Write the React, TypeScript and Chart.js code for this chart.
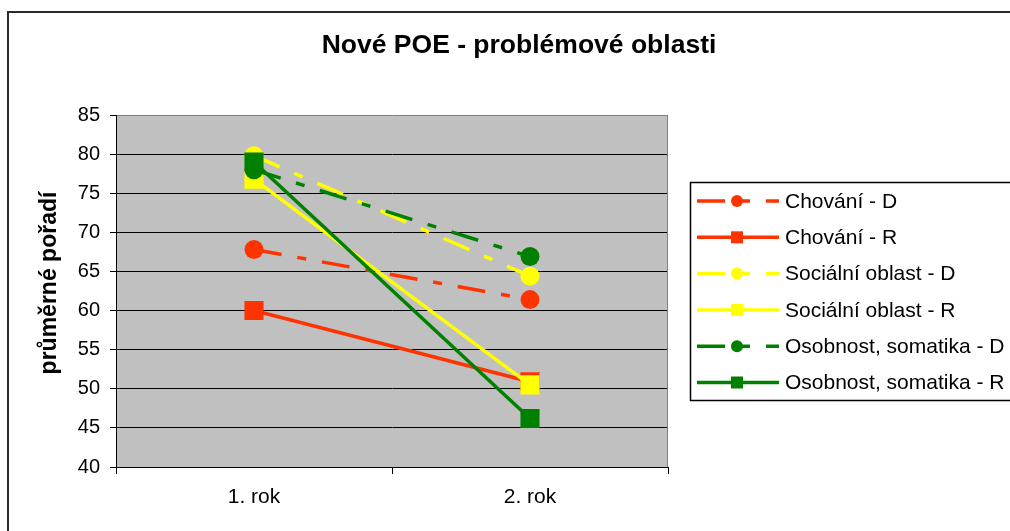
import React, { useEffect, useRef } from 'react';
import { Chart, registerables } from 'chart.js';

Chart.register(...registerables);

// ---- data ----
const categories = ['1. rok', '2. rok'];
const seriesNames = [
  'Chování - D',
  'Chování - R',
  'Sociální oblast - D',
  'Sociální oblast - R',
  'Osobnost, somatika - D',
  'Osobnost, somatika - R',
];
const chovaniD = [67.8, 61.4];
const chovaniR = [60.0, 50.9];
const socialniD = [79.8, 64.4];
const socialniR = [76.8, 50.5];
const osobnostD = [78.0, 66.9];
const osobnostR = [79.0, 46.2];
const yTickValues = [40, 45, 50, 55, 60, 65, 70, 75, 80, 85];

const titleText = 'Nové POE - problémové oblasti';
const yTitleText = 'průměrné pořadí';

const FONT = "'Liberation Sans', Arial, Helvetica, sans-serif";
const RED = '#FF3300';
const YELLOW = '#FFFF00';
const GREEN = '#008000';
const DASH = [28, 16, 9, 16];

const seriesValues = [chovaniD, chovaniR, socialniD, socialniR, osobnostD, osobnostR];
const seriesColors = [RED, RED, YELLOW, YELLOW, GREEN, GREEN];
const seriesDashed = [true, false, true, false, true, false];

const decorPlugin = {
  id: 'decor',
  beforeDraw(chart: any) {
    const { ctx, chartArea: a } = chart;
    ctx.save();
    ctx.fillStyle = '#ffffff';
    ctx.fillRect(0, 0, chart.width, chart.height);
    ctx.fillStyle = '#C0C0C0';
    ctx.fillRect(a.left, a.top, a.right - a.left, a.bottom - a.top);
    ctx.restore();
  },
  afterDraw(chart: any) {
    const { ctx, chartArea: a } = chart;
    ctx.save();
    // plot right border
    ctx.strokeStyle = '#808080';
    ctx.lineWidth = 1;
    ctx.beginPath();
    ctx.moveTo(a.right - 0.5, a.top);
    ctx.lineTo(a.right - 0.5, a.bottom);
    ctx.stroke();

    // outer chart border
    ctx.strokeStyle = '#2a2a2a';
    ctx.lineWidth = 2;
    ctx.beginPath();
    ctx.moveTo(8, chart.height + 2);
    ctx.lineTo(8, 12);
    ctx.lineTo(chart.width + 2, 12);
    ctx.stroke();

    // title
    ctx.fillStyle = '#000';
    ctx.font = `bold 26.5px ${FONT}`;
    ctx.textAlign = 'center';
    ctx.textBaseline = 'middle';
    ctx.fillText(titleText, 519, 46);

    // y axis title
    ctx.save();
    ctx.translate(50, 283);
    ctx.rotate(-Math.PI / 2);
    ctx.font = `bold 23px ${FONT}`;
    ctx.fillText(yTitleText, 0, 0);
    ctx.restore();

    // legend
    const boxL = 690.5, boxT = 182.5, boxB = 400.5;
    ctx.strokeStyle = '#000';
    ctx.lineWidth = 1.5;
    ctx.strokeRect(boxL, boxT, chart.width + 20 - boxL, boxB - boxT);
    const lx0 = 697, lx1 = 779, mx = 737, tx = 785;
    chart.data.datasets.forEach((ds: any, i: number) => {
      const y = 201 + i * 36.3;
      ctx.strokeStyle = ds.borderColor;
      ctx.lineWidth = 3.5;
      ctx.setLineDash(ds.borderDash || []);
      ctx.lineDashOffset = 0;
      ctx.beginPath();
      ctx.moveTo(lx0, y);
      ctx.lineTo(lx1, y);
      ctx.stroke();
      ctx.setLineDash([]);
      ctx.fillStyle = ds.borderColor;
      if (ds.pointStyle === 'rect') {
        ctx.fillRect(mx - 6, y - 6, 12, 12);
      } else {
        ctx.beginPath();
        ctx.arc(mx, y, 6, 0, Math.PI * 2);
        ctx.fill();
      }
      ctx.fillStyle = '#000';
      ctx.font = `21px ${FONT}`;
      ctx.textAlign = 'left';
      ctx.textBaseline = 'middle';
      ctx.fillText(ds.label, tx, y + 1);
    });
    ctx.restore();
  },
};

export default function App() {
  const ref = useRef<HTMLCanvasElement>(null);

  useEffect(() => {
    if (!ref.current) return;
    const datasets = seriesNames.map((name, i) => ({
      label: name,
      data: seriesValues[i],
      borderColor: seriesColors[i],
      backgroundColor: seriesColors[i],
      borderWidth: 3.5,
      borderDash: seriesDashed[i] ? DASH : [],
      pointStyle: seriesDashed[i] ? 'circle' : 'rect',
      pointRadius: seriesDashed[i] ? 9.5 : 13.5,
      pointBorderWidth: 0,
      pointBackgroundColor: seriesColors[i],
      tension: 0,
      fill: false,
      order: seriesNames.length - 1 - i,
    }));

    const chart = new Chart(ref.current, {
      type: 'line',
      data: { labels: categories, datasets },
      options: {
        responsive: false,
        maintainAspectRatio: false,
        devicePixelRatio: 1,
        animation: false,
        layout: { padding: { top: 115, right: 342, bottom: 0, left: 0 } },
        plugins: {
          legend: { display: false },
          title: { display: false },
          tooltip: { enabled: false },
        },
        scales: {
          x: {
            type: 'category',
            offset: true,
            grid: {
              offset: true,
              drawOnChartArea: false,
              drawTicks: true,
              tickLength: 7,
              tickColor: '#000',
              color: '#000',
            },
            border: { color: '#000', width: 1 },
            ticks: { color: '#000', font: { family: FONT, size: 21 }, padding: 11 },
            afterFit: (s: any) => {
              s.height = 64;
            },
          },
          y: {
            min: 40,
            max: 85,
            afterBuildTicks: (s: any) => {
              s.ticks = yTickValues.map((v) => ({ value: v }));
            },
            grid: {
              color: (c: any) => (c.tick && c.tick.value === 85 ? '#808080' : '#000'),
              tickColor: '#000',
              tickLength: 6,
              lineWidth: 1,
            },
            border: { color: '#000', width: 1 },
            ticks: { color: '#000', font: { family: FONT, size: 20 }, padding: 10 },
            afterFit: (s: any) => {
              s.width = 116;
            },
          },
        },
      },
      plugins: [decorPlugin],
    });
    return () => chart.destroy();
  }, []);

  return (
    <div style={{ position: 'fixed', left: 0, top: 0, width: 1010, height: 531, background: '#fff' }}>
      <canvas ref={ref} width={1010} height={531} style={{ display: 'block' }} />
    </div>
  );
}
